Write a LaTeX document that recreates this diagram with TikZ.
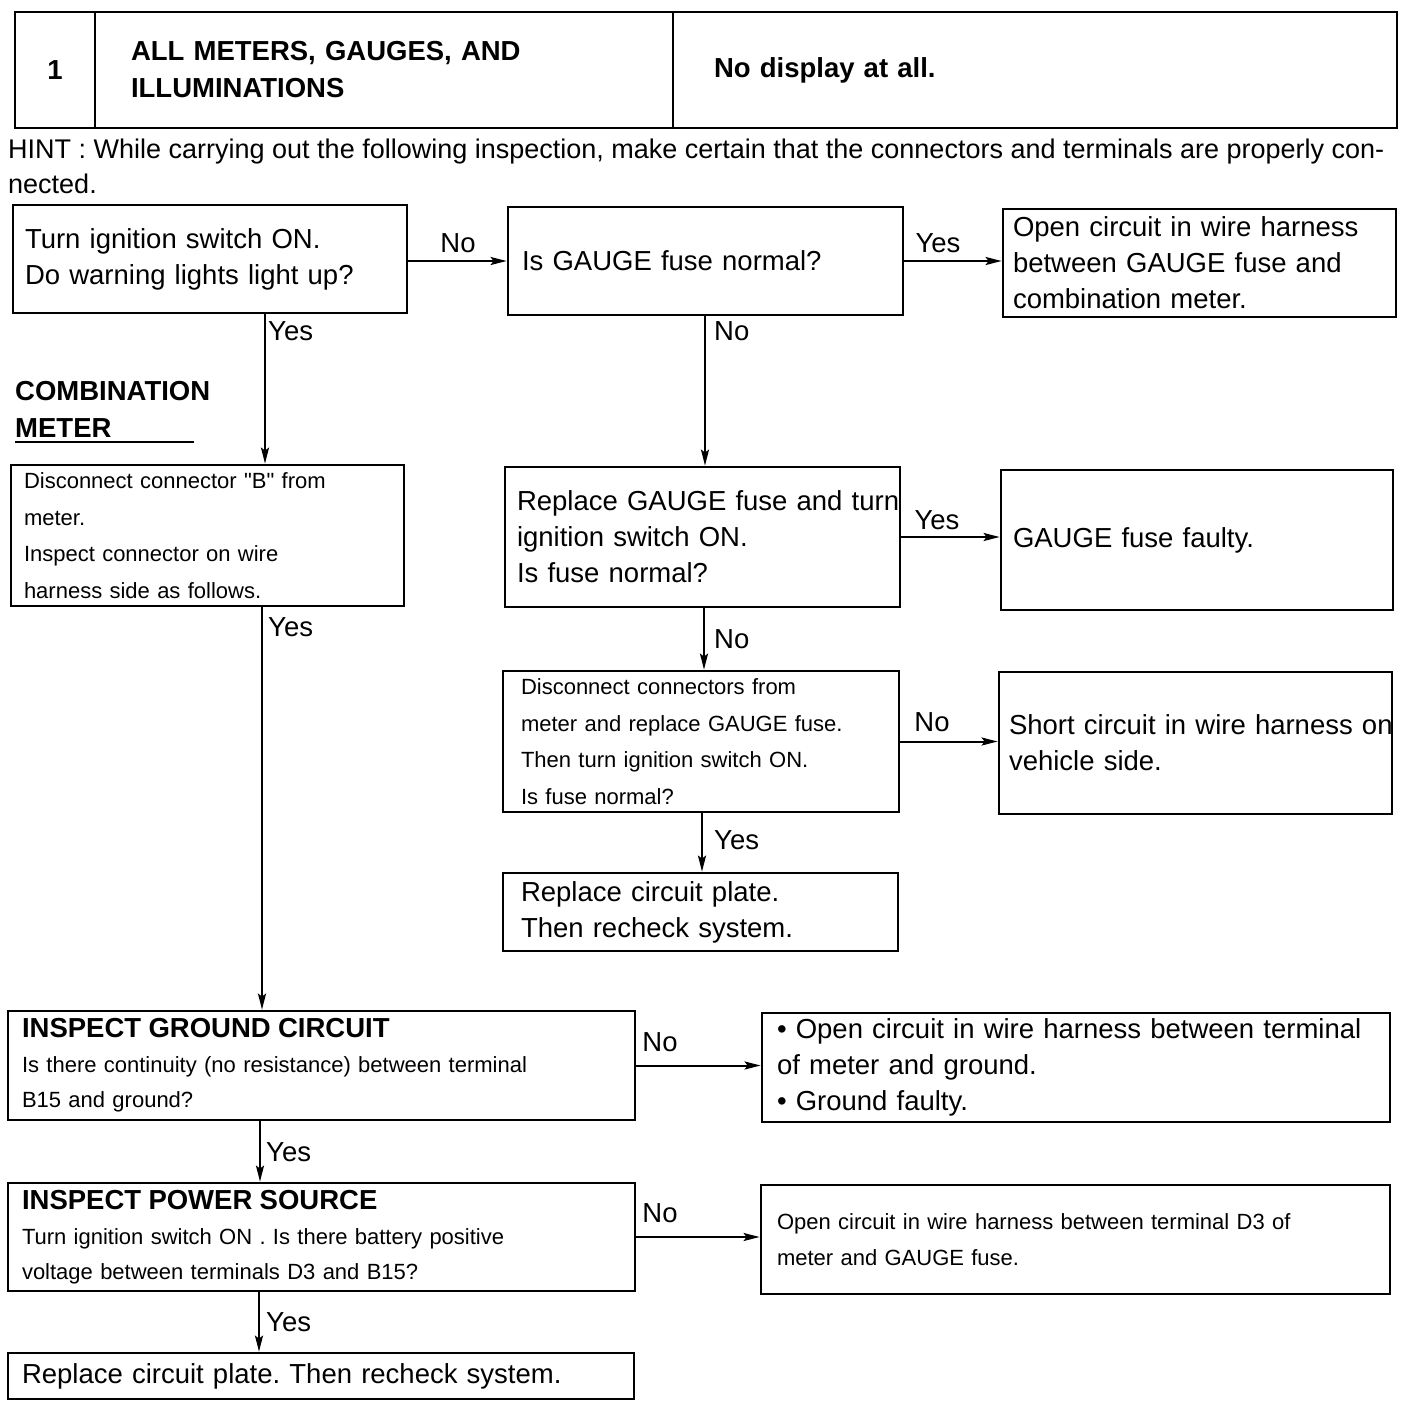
\documentclass[tikz,border=0pt]{standalone}
\usepackage{fontspec}
\setmainfont{Liberation Sans}
\usetikzlibrary{arrows.meta}
\frenchspacing
\newcommand\fmain{\fontsize{27.5}{36}\selectfont}
\newcommand\fsmall{\fontsize{22}{36.7}\selectfont}
\newcommand\fsmallb{\fontsize{22}{35}\selectfont}
\newcommand\fbold{\bfseries\fontsize{27.5}{37}\selectfont}
\begin{document}
\begin{tikzpicture}[x=1pt,y=-1pt,
 box/.style={draw, line width=2.8pt, rectangle, inner ysep=0pt, align=left, font=\fmain},
 arr/.style={line width=2pt, -{Stealth[length=16pt,width=8pt,inset=3pt]}},
 lbl/.style={font=\fmain, inner sep=0pt},
 plain/.style={inner sep=0pt, align=left, anchor=west}]
\useasboundingbox (0,0) rectangle (1408,1408);

% header
\node[box, minimum width=80, minimum height=116, font=\fbold, align=center, inner sep=0pt] (h1) at (55,70) {1};
\node[box, minimum width=578, minimum height=116, text width=506, inner xsep=36, font=\fbold] (h2) at (384,70) {ALL METERS, GAUGES, AND\\ILLUMINATIONS};
\node[box, minimum width=724, minimum height=116, text width=642, inner xsep=41, font=\fbold] (h3) at (1035,70) {No display at all.};

\node[plain, font=\fontsize{27}{35}\selectfont] (hint) at (8,166) {HINT : While carrying out the following inspection, make certain that the connectors and terminals are properly con-\\nected.};

\node[plain, font=\fbold] (cm) at (15,409) {COMBINATION\\METER};
\draw[line width=1.6pt] (cm.south west |- 0,442) coordinate (ul1) -- (194,442) coordinate (ul2);

% boxes
\node[box, minimum width=394, minimum height=108, text width=370, inner xsep=12] (a) at (210,259) {Turn ignition switch ON.\\Do warning lights light up?};
\node[box, minimum width=395, minimum height=108, text width=367, inner xsep=14] (b) at (705.5,261) {Is GAUGE fuse normal?};
\node[box, minimum width=393, minimum height=108, text width=373, inner xsep=10] (c) at (1199.5,263) {Open circuit in wire harness\\between GAUGE fuse and\\combination meter.};
\node[box, minimum width=395, minimum height=140, text width=371, inner xsep=12] (d) at (702.5,537) {\mbox{Replace GAUGE fuse and turn}\\ignition switch ON.\\Is fuse normal?};
\node[box, minimum width=392, minimum height=140, text width=368, inner xsep=12] (e) at (1197,540) {GAUGE fuse faulty.};
\node[box, minimum width=396, minimum height=141, text width=360, inner xsep=18, font=\fsmall] (f) at (701,741.5) {Disconnect connectors from\\meter and replace GAUGE fuse.\\Then turn ignition switch ON.\\Is fuse normal?};
\node[box, minimum width=393, minimum height=142, text width=373, inner xsep=10] (g) at (1195.5,743) {\mbox{Short circuit in wire harness on}\\vehicle side.};
\node[box, minimum width=395, minimum height=78, text width=359, inner xsep=18] (h) at (700.5,912) {Replace circuit plate.\\Then recheck system.};
\node[box, minimum width=393, minimum height=141, text width=367, inner xsep=13, font=\fsmall] (i) at (207.5,535.5) {Disconnect connector \textquotedbl B\textquotedbl{} from\\meter.\\Inspect connector on wire\\harness side as follows.};
\node[box, minimum width=627, minimum height=109, text width=599, inner xsep=14, font=\fsmallb] (j) at (321.5,1065.5) {{\fbold INSPECT GROUND CIRCUIT}\\Is there continuity (no resistance) between terminal\\B15 and ground?};
\node[box, minimum width=628, minimum height=109, text width=598, inner xsep=15] (k) at (1076,1067.5) {\mbox{• Open circuit in wire harness between terminal}\\of meter and ground.\\• Ground faulty.};
\node[box, minimum width=627, minimum height=108, text width=599, inner xsep=14, font=\fsmallb] (l) at (321.5,1237) {{\fbold INSPECT POWER SOURCE}\\Turn ignition switch ON . Is there battery positive\\voltage between terminals D3 and B15?};
\node[box, minimum width=629, minimum height=109, text width=597, inner xsep=16, font=\fsmall] (m) at (1075.5,1239.5) {Open circuit in wire harness between terminal D3 of\\meter and GAUGE fuse.};
\node[box, minimum width=626, minimum height=46, text width=598, inner xsep=14] (n) at (321,1376) {Replace circuit plate. Then recheck system.};

% connector columns
\coordinate (xa) at (265,0);
\coordinate (xi) at (262,0);
\coordinate (xj) at (260,0);
\coordinate (xl) at (259,0);
\coordinate (xb) at (705,0);
\coordinate (xd) at (704,0);
\coordinate (xf) at (702,0);

% connectors
\draw[arr] (b.west -| a.east) -- (b.west);
\draw[arr] (b.east) -- (b.east -| c.west);
\draw[arr] (d.east) -- (d.east -| e.west);
\draw[arr] (f.east) -- (f.east -| g.west);
\draw[arr] (j.east) -- (j.east -| k.west);
\draw[arr] (l.east) -- (l.east -| m.west);
\draw[arr] (a.south -| xa) -- (i.north -| xa);
\draw[arr] (i.south -| xi) -- (j.north -| xi);
\draw[arr] (j.south -| xj) -- (l.north -| xj);
\draw[arr] (l.south -| xl) -- (n.north -| xl);
\draw[arr] (b.south -| xb) -- (d.north -| xb);
\draw[arr] (d.south -| xd) -- (f.north -| xd);
\draw[arr] (f.south -| xf) -- (h.north -| xf);

% labels
\node[lbl] (l1) at (458,243) {No};
\node[lbl] (l2) at (938,243) {Yes};
\node[lbl, anchor=west] (l3) at (714,331) {No};
\node[lbl] (l4) at (937,520) {Yes};
\node[lbl, anchor=west] (l5) at (714,639) {No};
\node[lbl] (l6) at (932,722) {No};
\node[lbl, anchor=west] (l7) at (714,840) {Yes};
\node[lbl, anchor=west] (l8) at (268,331) {Yes};
\node[lbl, anchor=west] (l9) at (268,627) {Yes};
\node[lbl] (l10) at (660,1042) {No};
\node[lbl, anchor=west] (l11) at (266,1152) {Yes};
\node[lbl] (l12) at (660,1213) {No};
\node[lbl, anchor=west] (l13) at (266,1322) {Yes};
\end{tikzpicture}
\end{document}
